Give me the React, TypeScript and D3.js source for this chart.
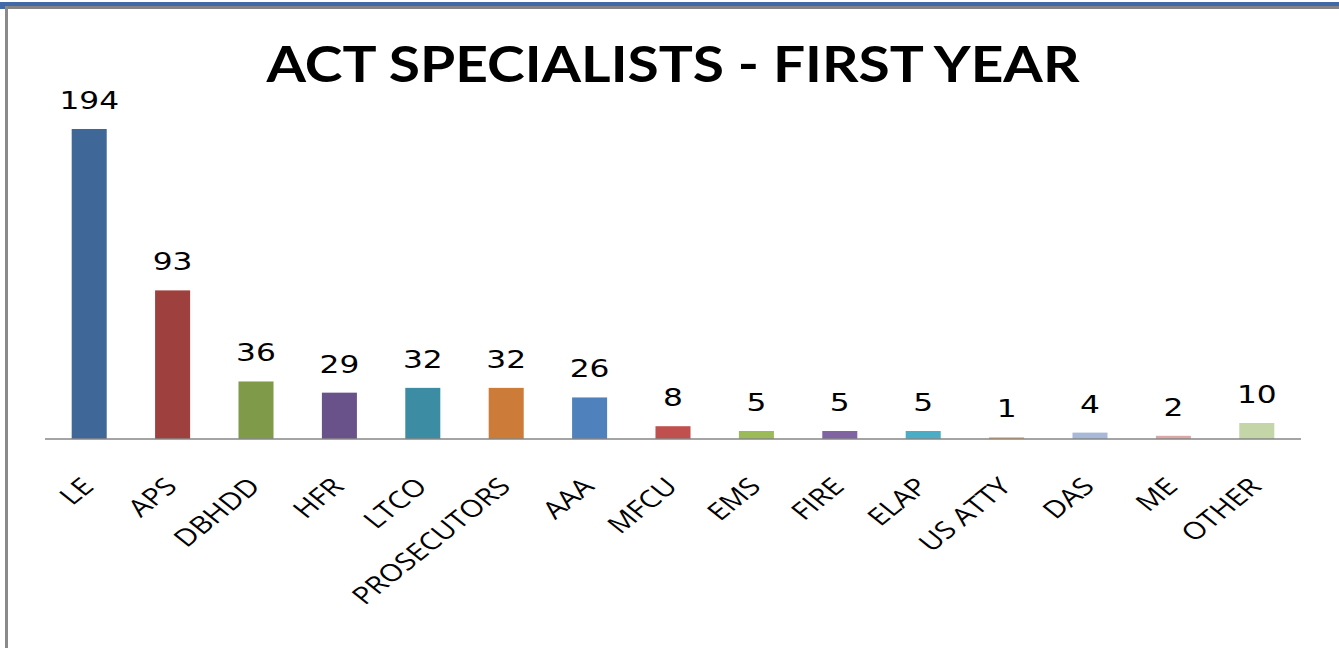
import React from "react";
import * as d3 from "d3";

const categories = ["LE", "APS", "DBHDD", "HFR", "LTCO", "PROSECUTORS", "AAA", "MFCU", "EMS", "FIRE", "ELAP", "US ATTY", "DAS", "ME", "OTHER"];
const values = [194, 93, 36, 29, 32, 32, 26, 8, 5, 5, 5, 1, 4, 2, 10];
const colors = ["#3F6898", "#9E413E", "#7F9A48", "#69518A", "#3C8DA4", "#CC7B38", "#4F81BD", "#C0504D", "#9BBB59", "#8064A2", "#4BACC6", "#F79646", "#A8B9D8", "#DCA8A7", "#C4D5A8"];
const title = "ACT SPECIALISTS - FIRST YEAR";

const W = 1339;
const H = 648;
const SX = 1.25;

export default function App() {
  const x = d3.scaleBand<string>().domain(categories).range([45, 1301]).paddingInner(0.58).paddingOuter(0.32);
  const y = d3.scaleLinear().domain([0, 250]).range([439, 439 - 399.5]);
  const bw = x.bandwidth();
  return (
    <svg width={W} height={H} style={{ position: "absolute", left: 0, top: 0, background: "#fff" }}>
      <rect x={0} y={2} width={W} height={4} fill="#4169A8" />
      <rect x={0} y={6} width={5} height={3} fill="#4169A8" />
      <rect x={5} y={6} width={W - 5} height={3} fill="#848484" />
      <rect x={5} y={6} width={3} height={H - 6} fill="#8A8A8A" />
      <text x={673} y={82} textAnchor="middle" fontFamily="Lato, 'Open Sans', sans-serif" fontWeight="bold" fontSize={49}
        textLength={813} lengthAdjust="spacingAndGlyphs" fill="#000">{title}</text>
      {categories.map((c, i) => {
        const x0 = x(c)!;
        const cx = x0 + bw / 2;
        const yt = y(values[i]);
        return (
          <g key={c}>
            <rect x={x0} y={yt} width={bw} height={y(0) - yt} fill={colors[i]} />
            <g transform={`translate(${cx},${yt - 20}) scale(${SX},1)`}>
              <text x={0} y={0} textAnchor="middle" fontFamily="'DejaVu Sans', sans-serif" fontSize={25} fill="#000">{values[i]}</text>
            </g>
            <g transform={`translate(${cx + 6},488) scale(${SX},1) rotate(-45)`}>
              <text x={0} y={0} textAnchor="end" fontFamily="'Open Sans', sans-serif" fontSize={24} fill="#000">{c}</text>
            </g>
          </g>
        );
      })}
      <line x1={45} x2={1301} y1={439} y2={439} stroke="#868686" strokeWidth={1.5} />
    </svg>
  );
}
